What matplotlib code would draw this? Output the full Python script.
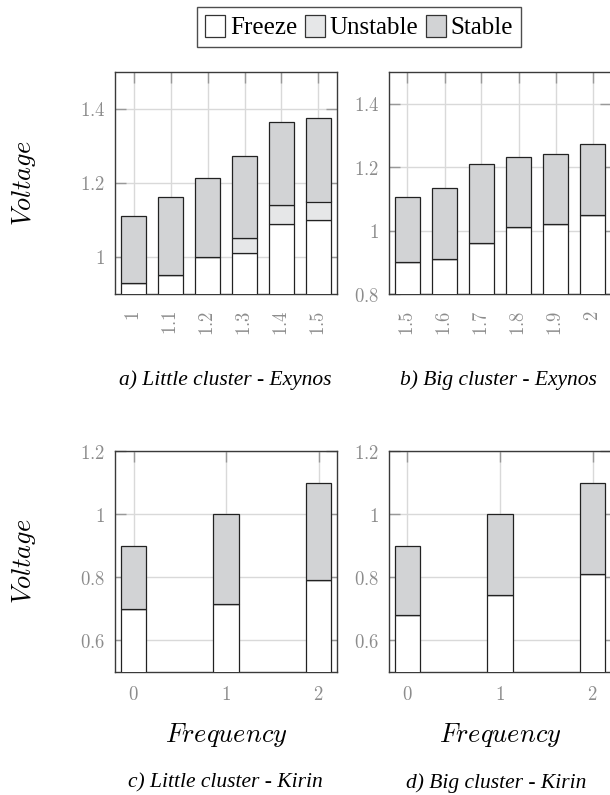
import matplotlib.pyplot as plt
from matplotlib.patches import Patch

# voltage levels (freeze top, unstable top, stable top)
LITTLE_EXY_FREQ = [1.0, 1.1, 1.2, 1.3, 1.4, 1.5]
LITTLE_EXY_FREEZE = [0.93, 0.95, 1.00, 1.01, 1.09, 1.10]
LITTLE_EXY_UNSTABLE = [0.93, 0.95, 1.00, 1.05, 1.14, 1.15]
LITTLE_EXY_STABLE = [1.112, 1.163, 1.213, 1.274, 1.365, 1.375]

BIG_EXY_FREQ = [1.5, 1.6, 1.7, 1.8, 1.9, 2.0]
BIG_EXY_FREEZE = [0.90, 0.91, 0.96, 1.01, 1.02, 1.05]
BIG_EXY_UNSTABLE = [0.90, 0.91, 0.96, 1.01, 1.02, 1.05]
BIG_EXY_STABLE = [1.107, 1.135, 1.21, 1.232, 1.243, 1.274]

LITTLE_KIR_FREQ = [0, 1, 2]
LITTLE_KIR_FREEZE = [0.70, 0.716, 0.79]
LITTLE_KIR_UNSTABLE = [0.70, 0.716, 0.79]
LITTLE_KIR_STABLE = [0.90, 1.00, 1.10]

BIG_KIR_FREQ = [0, 1, 2]
BIG_KIR_FREEZE = [0.68, 0.745, 0.81]
BIG_KIR_UNSTABLE = [0.68, 0.745, 0.81]
BIG_KIR_STABLE = [0.90, 1.00, 1.10]

LITTLE_EXY_XTICKS = ["1", "1.1", "1.2", "1.3", "1.4", "1.5"]
BIG_EXY_XTICKS = ["1.5", "1.6", "1.7", "1.8", "1.9", "2"]
KIR_XTICKS = ["0", "1", "2"]

EXY_LITTLE_YTICKS = [1.0, 1.2, 1.4]
EXY_BIG_YTICKS = [0.8, 1.0, 1.2, 1.4]
KIR_YTICKS = [0.6, 0.8, 1.0, 1.2]

LEGEND = ["Freeze", "Unstable", "Stable"]
CAPTIONS = ["a) Little cluster - Exynos", "b) Big cluster - Exynos",
            "c) Little cluster - Kirin", "d) Big cluster - Kirin"]

C_FREEZE = "white"
C_UNSTABLE = "#e6e7e8"
C_STABLE = "#d2d3d5"
TICK_GREY = "#8c8c8c"

plt.rcParams["mathtext.fontset"] = "cm"


def fmt(v):
    s = f"{v:g}"
    return f"${s}$"


def draw(ax, x, freeze, unstable, stable, width, ylim, yticks, xticks, xlim, rot):
    b = ax.bar(x, freeze, width, color=C_FREEZE, edgecolor="#222222", lw=0.9, zorder=3)
    ax.bar(x, [u - f for u, f in zip(unstable, freeze)], width, bottom=freeze,
           color=C_UNSTABLE, edgecolor="#222222", lw=0.9, zorder=3)
    ax.bar(x, [s - u for s, u in zip(stable, unstable)], width, bottom=unstable,
           color=C_STABLE, edgecolor="#222222", lw=0.9, zorder=3)
    ax.set_ylim(*ylim)
    ax.set_xlim(*xlim)
    ax.set_yticks(yticks)
    ax.set_yticklabels([fmt(v) for v in yticks])
    ax.set_xticks(x)
    ax.set_xticklabels([f"${t}$" for t in xticks], rotation=rot,
                       va="top", ha="center")
    ax.grid(True, color="#d9d9d9", lw=1.0, zorder=0)
    ax.set_axisbelow(True)
    ax.tick_params(direction="in", length=8, width=1, color="#999999",
                   labelcolor=TICK_GREY, labelsize=13.5, top=True, right=True)
    ax.tick_params(axis="y", pad=7)
    ax.tick_params(axis="x", pad=12 if rot else 9)
    for sp in ax.spines.values():
        sp.set_color("#3a3a3a")
        sp.set_linewidth(1.0)
    return b


fig = plt.figure(figsize=(6.1, 7.95), dpi=100)
W, H = 610, 795


def axes_px(left, top, width, height):
    return fig.add_axes([left / W, 1 - (top + height) / H, width / W, height / H])


ax_a = axes_px(115, 72, 222, 222)
ax_b = axes_px(389, 72, 222, 222)
ax_c = axes_px(115, 451, 222, 221)
ax_d = axes_px(389, 451, 222, 221)

draw(ax_a, LITTLE_EXY_FREQ, LITTLE_EXY_FREEZE, LITTLE_EXY_UNSTABLE, LITTLE_EXY_STABLE,
     0.07, (0.9, 1.5), EXY_LITTLE_YTICKS, LITTLE_EXY_XTICKS, (0.95, 1.55), 90)
draw(ax_b, BIG_EXY_FREQ, BIG_EXY_FREEZE, BIG_EXY_UNSTABLE, BIG_EXY_STABLE,
     0.07, (0.8, 1.5), EXY_BIG_YTICKS, BIG_EXY_XTICKS, (1.45, 2.05), 90)
draw(ax_c, LITTLE_KIR_FREQ, LITTLE_KIR_FREEZE, LITTLE_KIR_UNSTABLE, LITTLE_KIR_STABLE,
     0.28, (0.5, 1.2), KIR_YTICKS, KIR_XTICKS, (-0.2, 2.2), 0)
draw(ax_d, BIG_KIR_FREQ, BIG_KIR_FREEZE, BIG_KIR_UNSTABLE, BIG_KIR_STABLE,
     0.28, (0.5, 1.2), KIR_YTICKS, KIR_XTICKS, (-0.2, 2.2), 0)

for ax in (ax_a, ax_c):
    ax.set_ylabel(r"$Voltage$", fontsize=19)
    ax.yaxis.set_label_coords(-0.345, 0.5)
for ax in (ax_c, ax_d):
    ax.set_xlabel(r"$Frequency$", fontsize=19)
    ax.xaxis.set_label_coords(0.5, -0.22)

cap = dict(family="Liberation Serif", style="italic", fontsize=15.5,
           ha="center", va="center")
fig.text(225 / W, 1 - 380 / H, CAPTIONS[0], **cap)
fig.text(498 / W, 1 - 380 / H, CAPTIONS[1], **cap)
fig.text(225 / W, 1 - 783 / H, CAPTIONS[2], **cap)
fig.text(496 / W, 1 - 783 / H, CAPTIONS[3], **cap)

handles = [Patch(facecolor=c, edgecolor="#333333", lw=0.9)
           for c in (C_FREEZE, C_UNSTABLE, C_STABLE)]
fig.legend(handles, LEGEND, loc="upper center", bbox_to_anchor=(359 / W, 1 - 7 / H),
           ncol=3, frameon=True, fancybox=False, edgecolor="#222222",
           prop={"family": "Liberation Serif", "size": 18},
           handlelength=0.8, handleheight=1.0, handletextpad=0.2,
           columnspacing=0.3, borderpad=0.3, borderaxespad=0)

fig.savefig("out.png", dpi=100)
